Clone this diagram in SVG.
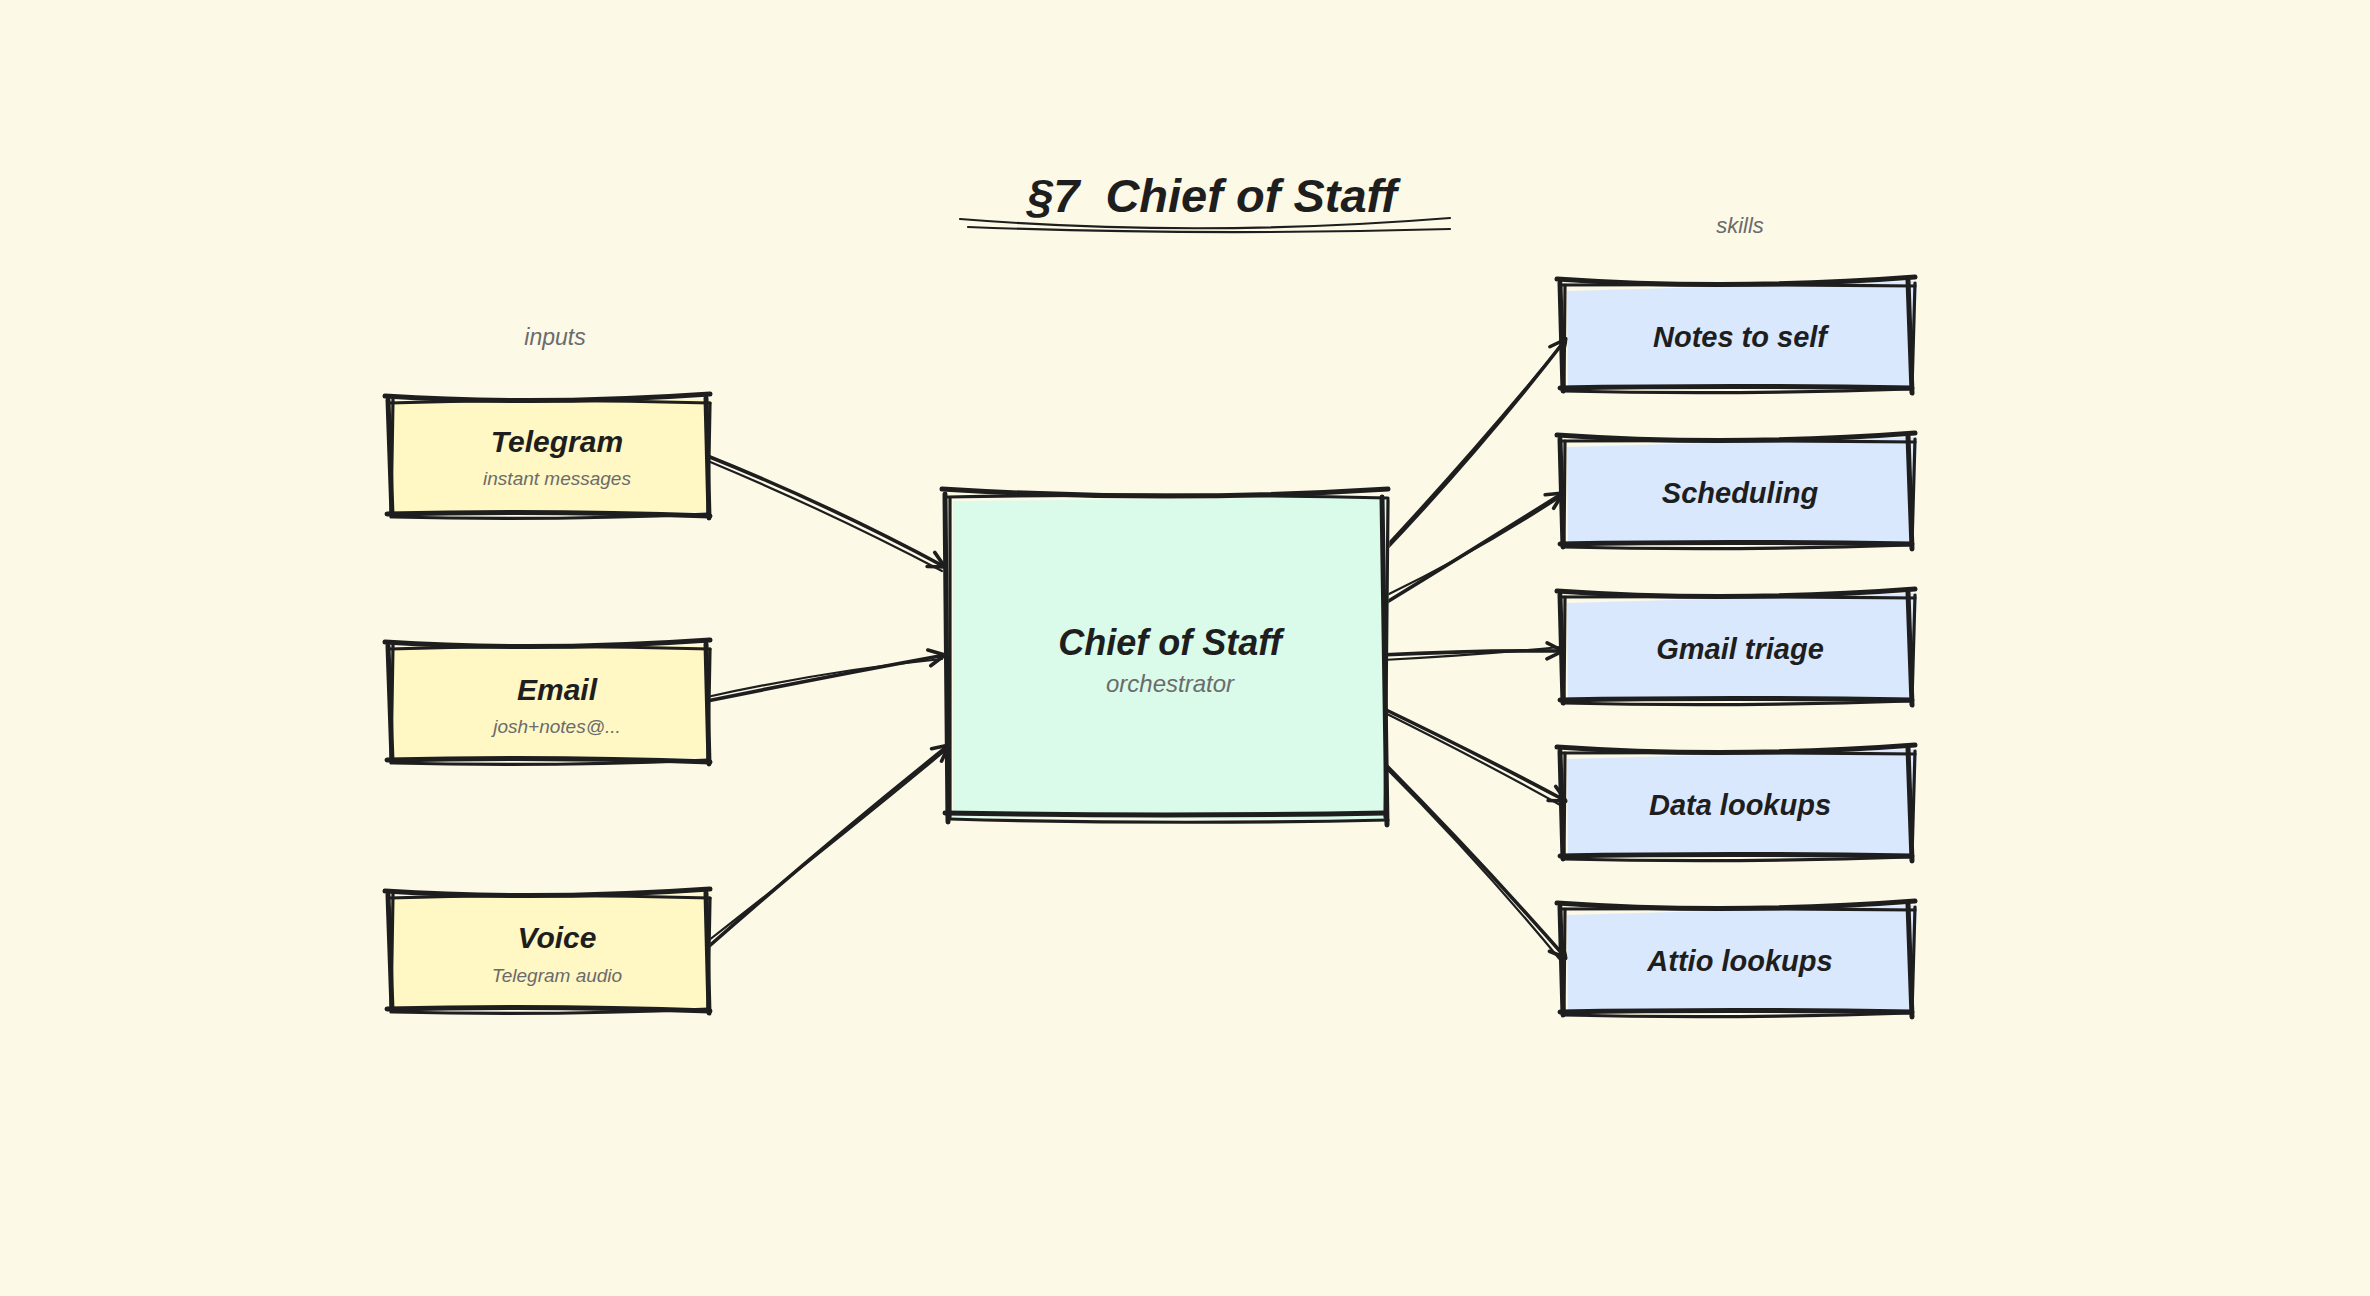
<svg xmlns="http://www.w3.org/2000/svg" xmlns:xlink="http://www.w3.org/1999/xlink" width="2370" height="1296" viewBox="0 0 2370 1296">
<style>
.bg{fill:#fcf9e7}
.sk{fill:none;stroke:#1e1e1e;stroke-width:5;stroke-linecap:round;stroke-linejoin:round}
.sk2{fill:none;stroke:#1e1e1e;stroke-width:3.2;stroke-linecap:round}
.con{fill:none;stroke:#1e1e1e;stroke-width:3.6;stroke-linecap:round}
.con2{fill:none;stroke:#1e1e1e;stroke-width:2.2;stroke-linecap:round}
.lbl{font-family:"Liberation Sans",Arial,sans-serif;font-style:italic;font-weight:bold;fill:#1e1e1e;text-anchor:middle}
.sub{font-family:"Liberation Sans",Arial,sans-serif;font-style:italic;fill:#6b6b6b;text-anchor:middle}
.fy{fill:#fff7c4}.fm{fill:#dafaea}.fb{fill:#d9e8fd}
</style>
<defs>
<marker id="ah" viewBox="-20 -12 24 24" refX="0" refY="0" markerWidth="24" markerHeight="24" markerUnits="userSpaceOnUse" orient="auto">
<path d="M-16,-8 L0,0 L-16,8" fill="none" stroke="#1e1e1e" stroke-width="3.6" stroke-linecap="round" stroke-linejoin="round"/>
</marker>
<g id="boxIn">
<path class="fy" d="M5,3 L324,-1 L320,112 L6,114 Z"/>
<path class="sk" d="M-3,-4 Q150,6 322,-6"/>
<path class="sk2" d="M2,3 Q160,-2 322,3"/>
<path class="sk" d="M0,0 L4,115"/>
<path class="sk2" d="M5,-1 L3,117"/>
<path class="sk" d="M318,-2 L321,118"/>
<path class="sk2" d="M322,3 L320,113"/>
<path class="sk" d="M-1,114 Q160,110 322,116"/>
<path class="sk2" d="M5,117 Q160,121 320,114"/>
</g>
<g id="boxC">
<path class="fm" d="M8,6 L445,2 L440,325 L8,322 Z"/>
<path class="sk" d="M-3,-6 Q220,8 443,-6"/>
<path class="sk2" d="M3,2 Q220,-2 443,3"/>
<path class="sk" d="M0,-1 L3,327"/>
<path class="sk2" d="M5,3 L5,322"/>
<path class="sk" d="M437,2 L442,330"/>
<path class="sk2" d="M443,5 L440,322"/>
<path class="sk" d="M0,318 Q220,322 440,318"/>
<path class="sk2" d="M5,324 Q220,330 443,325"/>
</g>
<g id="boxS">
<path class="fb" d="M7,6 L357,-4 L352,106 L8,102 Z"/>
<path class="sk" d="M-3,-6 Q170,6 355,-8"/>
<path class="sk2" d="M3,0 Q170,-1 355,1"/>
<path class="sk" d="M0,-2 L3,106"/>
<path class="sk2" d="M5,0 L4,103"/>
<path class="sk" d="M348,-5 L352,108"/>
<path class="sk2" d="M355,-2 L352,104"/>
<path class="sk" d="M0,103 Q170,100 352,103"/>
<path class="sk2" d="M3,106 Q170,110 350,104"/>
</g>
</defs>
<rect class="bg" x="0" y="0" width="2370" height="1296"/>

<g id="title">
<text class="lbl" x="1212" y="212" font-size="47" xml:space="preserve">§7  Chief of Staff</text>
<path class="con2" d="M960,219 Q1200,238 1450,218"/>
<path class="con2" d="M968,227 Q1200,236 1450,229"/>
</g>
<text class="sub" x="555" y="345" font-size="23">inputs</text>
<text class="sub" x="1740" y="233" font-size="22">skills</text>

<g id="connectors">
<path class="con" d="M705,455 Q830,505 945,567" marker-end="url(#ah)"/>
<path class="con2" d="M708,461 Q830,512 942,571"/>
<path class="con" d="M707,701 Q830,676 945,655" marker-end="url(#ah)"/>
<path class="con2" d="M707,697 Q830,670 942,659"/>
<path class="con" d="M707,948 Q830,840 949,745" marker-end="url(#ah)"/>
<path class="con2" d="M704,944 Q830,846 946,750"/>
<path class="con" d="M1383,552 Q1480,450 1566,339" marker-end="url(#ah)"/>
<path class="con2" d="M1387,545 Q1480,445 1563,343"/>
<path class="con" d="M1387,602 Q1480,545 1563,493" marker-end="url(#ah)"/>
<path class="con2" d="M1387,595 Q1480,550 1560,497"/>
<path class="con" d="M1380,655 Q1480,650 1563,651" marker-end="url(#ah)"/>
<path class="con2" d="M1383,660 Q1480,655 1560,647"/>
<path class="con" d="M1380,707 Q1480,755 1566,801" marker-end="url(#ah)"/>
<path class="con2" d="M1383,712 Q1480,760 1562,806"/>
<path class="con" d="M1380,759 Q1480,860 1566,958" marker-end="url(#ah)"/>
<path class="con2" d="M1383,765 Q1480,862 1562,962"/>
</g>

<g id="telegram">
<use xlink:href="#boxIn" transform="translate(388,400)"/>
<text class="lbl" x="557" y="452" font-size="30">Telegram</text>
<text class="sub" x="557" y="485" font-size="19">instant messages</text>
</g>
<g id="email">
<use xlink:href="#boxIn" transform="translate(388,646)"/>
<text class="lbl" x="557" y="700" font-size="30">Email</text>
<text class="sub" x="557" y="733" font-size="19">josh+notes@...</text>
</g>
<g id="voice">
<use xlink:href="#boxIn" transform="translate(388,895)"/>
<text class="lbl" x="557" y="948" font-size="30">Voice</text>
<text class="sub" x="557" y="982" font-size="19">Telegram audio</text>
</g>
<g id="chief">
<use xlink:href="#boxC" transform="translate(945,495)"/>
<text class="lbl" x="1170" y="655" font-size="36">Chief of Staff</text>
<text class="sub" x="1170" y="692" font-size="24">orchestrator</text>
</g>
<g id="notes">
<use xlink:href="#boxS" transform="translate(1560,285)"/>
<text class="lbl" x="1740" y="347" font-size="29">Notes to self</text>
</g>
<g id="scheduling">
<use xlink:href="#boxS" transform="translate(1560,441)"/>
<text class="lbl" x="1740" y="503" font-size="29">Scheduling</text>
</g>
<g id="gmail">
<use xlink:href="#boxS" transform="translate(1560,597)"/>
<text class="lbl" x="1740" y="659" font-size="29">Gmail triage</text>
</g>
<g id="data">
<use xlink:href="#boxS" transform="translate(1560,753)"/>
<text class="lbl" x="1740" y="815" font-size="29">Data lookups</text>
</g>
<g id="attio">
<use xlink:href="#boxS" transform="translate(1560,909)"/>
<text class="lbl" x="1740" y="971" font-size="29">Attio lookups</text>
</g>
</svg>
